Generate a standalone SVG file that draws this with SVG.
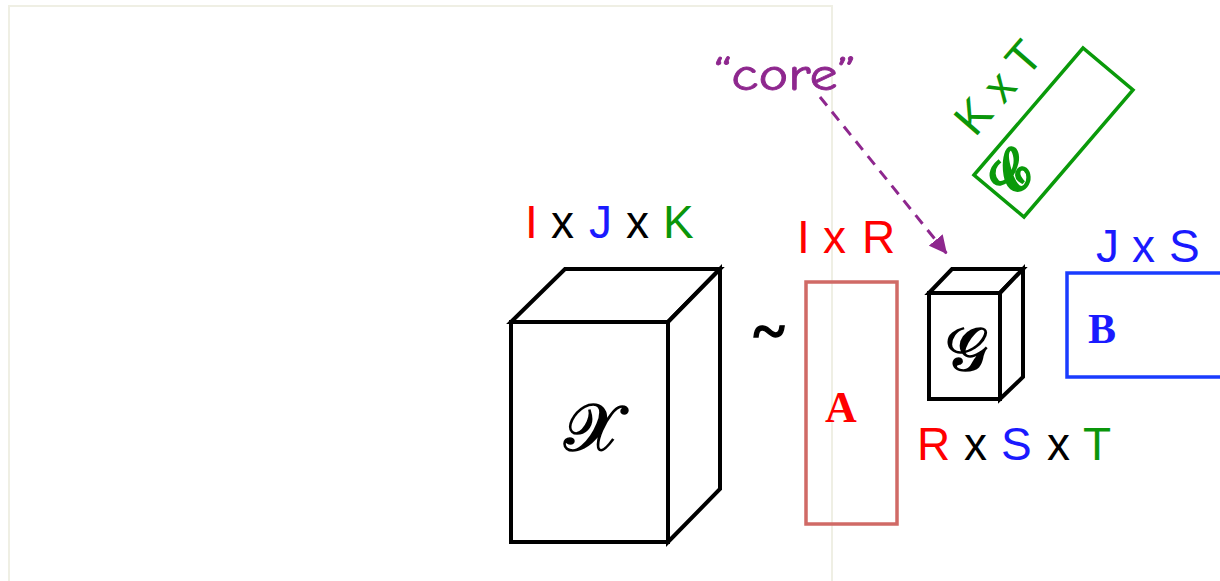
<svg xmlns="http://www.w3.org/2000/svg" width="1220" height="581" viewBox="0 0 1220 581">
<defs>
<style>
.lbl{font-family:"Liberation Sans",Arial,sans-serif;font-size:46px}
.r{fill:#ff0000}.b{fill:#1a1aff}.g{fill:#0a960a}.k{fill:#000}
.edge{fill:#fff;stroke:#000;stroke-width:4;stroke-linejoin:miter}
.sym{font-family:"DejaVu Serif","DejaVu Sans","Liberation Serif",serif;text-anchor:middle}
.bold{font-family:"Liberation Serif","Times New Roman",serif;font-weight:bold;text-anchor:middle}
</style>
<marker id="ah" viewBox="0 0 10 10" refX="10" refY="5" markerWidth="6" markerHeight="6" markerUnits="strokeWidth" orient="auto">
<path d="M0,0 L10,5 L0,10 z" fill="#8e278e"/>
</marker>
</defs>
<rect x="9" y="6" width="823" height="590" fill="none" stroke="#efefe4" stroke-width="2"/>
<g id="tensorX">
<rect class="edge" x="511" y="322" width="157" height="220"/>
<polygon class="edge" points="511,322 565,269 720,269 668,322"/>
<polygon class="edge" points="668,322 720,269 720,489 668,542"/>
<text class="sym" x="592" y="450" font-size="66" stroke="#000" stroke-width="1.6">𝒳</text>
<text class="lbl"><tspan class="r" x="525" y="238">I</tspan><tspan class="k" x="551" y="238">x</tspan><tspan class="b" x="589" y="238">J</tspan><tspan class="k" x="626" y="238">x</tspan><tspan class="g" x="663" y="238">K</tspan></text>
</g>
<g id="approx">
<text class="bold" font-size="46" stroke="#000" stroke-width="1" transform="translate(769,351) scale(1.3,1.3)">~</text>
</g>
<g id="matrixA">
<rect x="806" y="282" width="91" height="242" fill="none" stroke="#d06a66" stroke-width="3.5"/>
<text class="bold r" x="841" y="422" font-size="44">A</text>
<text class="lbl r"><tspan x="797" y="253">I</tspan><tspan x="823" y="253">x</tspan><tspan x="862" y="253">R</tspan></text>
</g>
<g id="coreG">
<rect class="edge" x="929" y="293" width="71" height="106"/>
<polygon class="edge" points="929,293 952,269 1023,269 1000,293"/>
<polygon class="edge" points="1000,293 1023,269 1023,377 1000,399"/>
<text class="sym" x="966" y="370" font-size="60" stroke="#000" stroke-width="1.6">𝒢</text>
<text class="lbl"><tspan class="r" x="917" y="460">R</tspan><tspan class="k" x="964" y="460">x</tspan><tspan class="b" x="1001" y="460">S</tspan><tspan class="k" x="1047" y="460">x</tspan><tspan class="g" x="1083" y="460">T</tspan></text>
</g>
<g id="matrixB">
<rect x="1067" y="273" width="170" height="104" fill="none" stroke="#1a3cff" stroke-width="3.5"/>
<text class="bold b" x="1102" y="343" font-size="42">B</text>
<text class="lbl b"><tspan x="1096" y="262">J</tspan><tspan x="1132" y="262">x</tspan><tspan x="1169" y="262">S</tspan></text>
</g>
<g id="matrixC">
<polygon points="974,175 1083,48 1133,90 1024,217" fill="none" stroke="#0a9a0a" stroke-width="3.5"/>
<text class="sym" x="0" y="0" font-size="52" font-weight="bold" fill="#0a9a0a" stroke="#0a9a0a" stroke-width="1.8" transform="translate(1024,187) rotate(-50)">𝒞</text>
<text class="lbl g" font-size="44" transform="translate(975,138) rotate(-49)">K x T</text>
</g>
<g id="coreLabel">
<text x="714" y="90" font-family="'Comic Neue','Open Sans','DejaVu Sans',sans-serif" font-size="46" fill="#8e278e" stroke="#8e278e" stroke-width="0.8" textLength="142" lengthAdjust="spacingAndGlyphs">“core”</text>
</g>
<g id="connectors">
<line x1="820" y1="97" x2="947" y2="254" stroke="#8e278e" stroke-width="3" stroke-dasharray="11 8" marker-end="url(#ah)"/>
</g>
</svg>
